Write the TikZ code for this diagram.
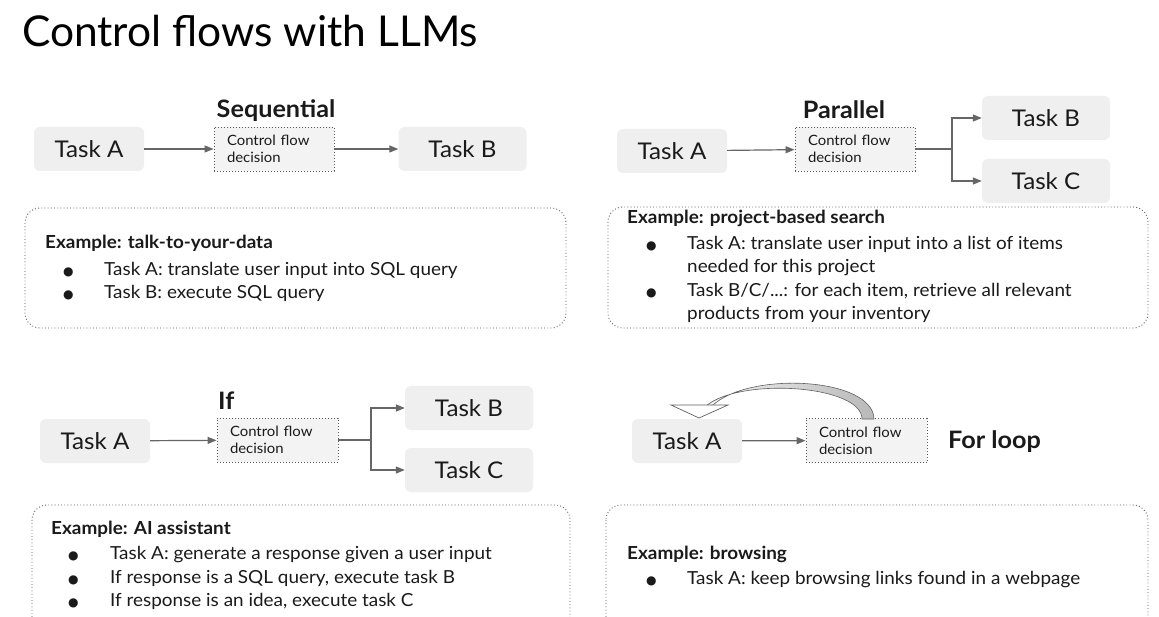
\documentclass[tikz,border=0pt]{standalone}
\usepackage{fontspec}
\setmainfont{Lato}[FakeStretch=1.05]
\newfontfamily\titlefont{Lato}
\newfontfamily\dejavu{DejaVu Sans}
\usetikzlibrary{arrows.meta,calc}
\definecolor{taskfill}{HTML}{EFEFEF}
\definecolor{cfdfill}{HTML}{F3F3F3}
\definecolor{dotc}{HTML}{5A5A5A}
\definecolor{arrc}{HTML}{666666}
\definecolor{txt}{HTML}{1A1A1A}
\begin{document}
\begin{tikzpicture}[x=1pt,y=-1pt,
  task/.style={fill=taskfill, rounded corners=6pt, inner sep=0pt, minimum width=110pt, minimum height=44pt,
    font=\fontsize{23}{27}\selectfont, text=txt},
  widetask/.style={task, minimum width=128pt},
  cfd/.style={fill=cfdfill, draw=dotc, line width=0.9pt, dash pattern=on 0.9pt off 2.1pt,
    inner xsep=13pt, inner ysep=0pt, text width=94pt, minimum height=44pt, align=left,
    font=\fontsize{14.2}{17}\selectfont, text=txt},
  flow/.style={draw=arrc, line width=1.2pt, -{Triangle[length=9pt,width=7pt]}},
  exbox/.style={draw=dotc, line width=0.9pt, dash pattern=on 0.9pt off 2.3pt, rounded corners=15pt},
  head/.style={font=\bfseries\fontsize{24}{28}\selectfont, text=txt, inner sep=0pt, anchor=base west},
  exhead/.style={font=\bfseries\fontsize{18}{21}\selectfont, text=txt, inner sep=0pt, anchor=base west},
  extext/.style={font=\fontsize{18}{21}\selectfont, text=txt, inner sep=0pt, anchor=base west},
  bul/.style={font=\dejavu\fontsize{12}{14}\selectfont, text=txt, inner sep=0pt, anchor=base west}
]
\useasboundingbox (0,0) rectangle (1159,617);
\clip (0,0) rectangle (1159,617);
\fill[white] (0,0) rectangle (1159,617);

% title
\node[font=\titlefont\fontsize{42.5}{48}\selectfont, text=black, inner sep=0pt, anchor=base west] (title) at (22,47) {Control flows with LLMs};

% ---------- Sequential ----------
\node[head, anchor=base] (h1) at (276,118) {Sequential};
\node[task] (ta1) at (89,149) {Task A};
\node[cfd] (cfd1) at (274,149) {Control flow\\decision};
\node[widetask] (tb1) at (462.5,149) {Task B};
\draw[flow] (ta1) -- (cfd1);
\draw[flow] (cfd1) -- (tb1);
\draw[exbox] (25,208) rectangle (566,328);
\node[exhead] (e1h) at (45,249) {Example: talk-to-your-data};
\node[bul] (e1b1) at (63,276) {●};
\node[extext] (e1t1) at (104,276) {Task A: translate user input into SQL query};
\node[bul] (e1b2) at (63,299) {●};
\node[extext] (e1t2) at (104,299) {Task B: execute SQL query};

% ---------- Parallel ----------
\node[head, anchor=base] (h2) at (844,119) {Parallel};
\node[task] (ta2) at (672,151) {Task A};
\node[cfd] (cfd2) at (855,149) {Control flow\\decision};
\node[widetask] (tb2) at (1046,118) {Task B};
\node[widetask] (tc2) at (1046,181) {Task C};
\draw[flow] (ta2) -- (cfd2);
\draw[flow] (cfd2.east) -- (952,149) |- (tb2.west);
\draw[flow] (cfd2.east) -- (952,149) |- (tc2.west);
\draw[exbox] (608,207) rectangle (1148,328);
\node[exhead] (e2h) at (627,224) {Example: project-based search};
\node[bul] (e2b1) at (646,250) {●};
\node[extext] (e2t1) at (687,250) {Task A: translate user input into a list of items};
\node[extext] (e2t1b) at (687,273) {needed for this project};
\node[bul] (e2b2) at (646,297) {●};
\node[extext] (e2t2) at (687,297) {Task B/C/...: for each item, retrieve all relevant};
\node[extext] (e2t2b) at (687,320) {products from your inventory};

% ---------- If ----------
\node[head] (h3) at (218,409) {If};
\node[task] (ta3) at (95,441) {Task A};
\node[cfd, text width=95pt] (cfd3) at (277.5,440) {Control flow\\decision};
\node[widetask] (tb3) at (469,408) {Task B};
\node[widetask] (tc3) at (469,470) {Task C};
\draw[flow] (ta3) -- (cfd3);
\draw[flow] (cfd3.east) -- (371,440) |- (tb3.west);
\draw[flow] (cfd3.east) -- (371,440) |- (tc3.west);
\draw[exbox] (32,505) rectangle (570,660);
\node[exhead] (e3h) at (51,534) {Example: AI assistant};
\node[bul] (e3b1) at (68,559) {●};
\node[extext] (e3t1) at (110,559) {Task A: generate a response given a user input};
\node[bul] (e3b2) at (68,583) {●};
\node[extext] (e3t2) at (110,583) {If response is a SQL query, execute task B};
\node[bul] (e3b3) at (68,606) {●};
\node[extext] (e3t3) at (110,606) {If response is an idea, execute task C};

% ---------- For loop ----------
\node[task] (ta4) at (687,441) {Task A};
\node[cfd, text width=95pt] (cfd4) at (866.5,440.5) {Control flow\\decision};
\node[head] (h4) at (948,448) {For loop};
\draw[flow] (ta4) -- (cfd4);
% curved block arrow (loop back)
\shade[left color=gray!10, right color=gray!55, draw=gray!75!black, line width=0.6pt]
  (874,419) .. controls (873,377) and (748,371) .. (712,406)
  -- (706,406) .. controls (740,377) and (862,385) .. (862,419) -- cycle;
\draw[fill=white, draw=gray!75!black, line width=0.7pt]
  (671,405) -- (728,405) -- (699,418) -- cycle;
\draw[exbox] (606,505) rectangle (1148,660);
\node[exhead] (e4h) at (627,559) {Example: browsing};
\node[bul] (e4b1) at (646,584) {●};
\node[extext] (e4t1) at (687,584) {Task A: keep browsing links found in a webpage};
\end{tikzpicture}
\end{document}
